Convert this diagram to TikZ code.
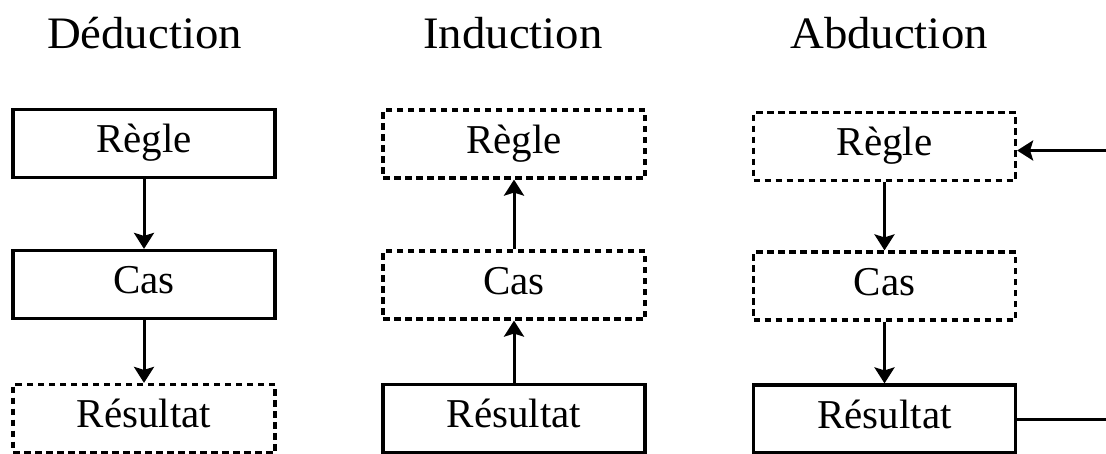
\documentclass[tikz,border=0pt]{standalone}
\usepackage{fontspec}
\setmainfont{Liberation Serif}
\newfontfamily\titlefont[FakeStretch=1.04]{Liberation Serif}
\usetikzlibrary{arrows.meta}
\tikzset{
  box/.style={draw, line width=3.2pt, minimum width=262pt, minimum height=68pt, inner sep=0pt,
    text height=28pt, text depth=9.6pt, font=\fontsize{41}{48}\selectfont},
  solidbox/.style={box},
  dashbox/.style={box, dash pattern=on 6.5pt off 4.5pt},
  title/.style={font=\titlefont\fontsize{45}{52}\selectfont, anchor=base},
  conn/.style={line width=3pt, -{Stealth[length=16pt, width=20pt, inset=3pt]}}
}
\begin{document}
\begin{tikzpicture}[x=1pt, y=-1pt]
\useasboundingbox (0,0) rectangle (1106,453);
% titles
\node[title] (t1) at (144.5,48) {Déduction};
\node[title] (t2) at (513,48) {Induction};
\node[title] (t3) at (889,48) {Abduction};
% Déduction
\node[solidbox] (g1) at (144,143.5) {Règle};
\node[solidbox] (c1) at (144,284.5) {Cas};
\node[dashbox]  (r1) at (144,418.5) {Résultat};
\draw[conn] (g1) -- (c1);
\draw[conn] (c1) -- (r1);
% Induction
\node[dashbox]  (g2) at (514,144) {Règle};
\node[dashbox]  (c2) at (514,285) {Cas};
\node[solidbox] (r2) at (514,418.5) {Résultat};
\draw[conn] (r2) -- (c2);
\draw[conn] (c2) -- (g2);
% Abduction
\node[dashbox]  (g3) at (884.5,146.5) {Règle};
\node[dashbox]  (c3) at (884.5,286) {Cas};
\node[solidbox] (r3) at (884.5,419) {Résultat};
\draw[conn] (g3) -- (c3);
\draw[conn] (c3) -- (r3);
\coordinate (loop) at (1114,0);
\draw[conn] (r3.east) -| (loop |- r3.east) |- ([yshift=-4pt]g3.east);
\end{tikzpicture}
\end{document}
